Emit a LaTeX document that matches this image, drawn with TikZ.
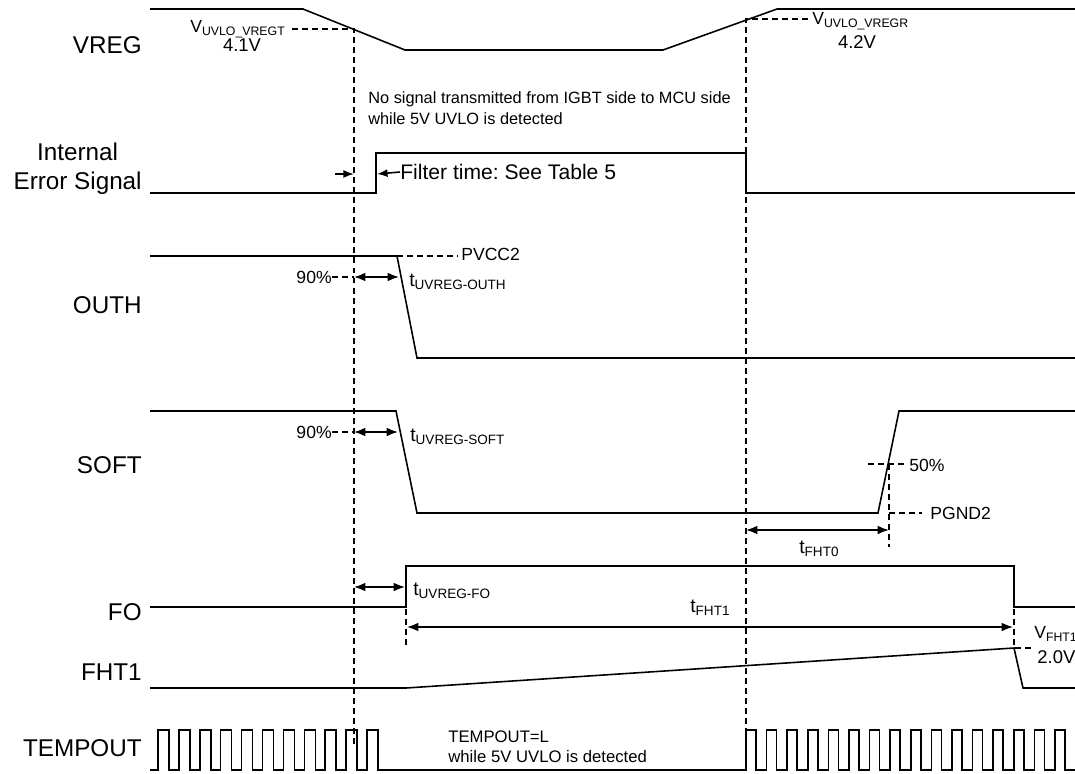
\documentclass[tikz,border=0pt]{standalone}
\usepackage{fontspec}
\setmainfont{Liberation Sans}
\usetikzlibrary{positioning, arrows.meta}
\frenchspacing

\begin{document}
\begin{tikzpicture}
    [
        x=0.2mm, y=-0.2mm,
        signal_line/.style={line width=0.9pt, line join=miter},
        guide_line/.style={dash pattern=on 3.4pt off 2.3pt, line width=0.8pt},
        span_arrow/.style={{Latex[length=6.5pt, width=5pt]}-{Latex[length=6.5pt, width=5pt]}, line width=0.9pt},
        tip_arrow/.style={-{Latex[length=6pt, width=4.5pt]}, line width=0.9pt},
        name_label/.style={anchor=east, align=center, inner sep=0pt, font=\fontsize{13.8}{16.5}\selectfont},
        note_label/.style={anchor=north west, align=left, inner sep=0pt, font=\fontsize{9.5}{11.9}\selectfont},
        level_label/.style={inner sep=0pt, font=\fontsize{10}{12}\selectfont},
        time_label/.style={anchor=west, inner sep=0pt, font=\fontsize{11}{13}\selectfont},
    ]
        \useasboundingbox (0,0) rectangle (1075,773);

        % signal names
        \node[name_label] (vreg) at (142,45) {VREG};
        \node[name_label] (ierr) at (142,169) {Internal\\Error Signal};
        \node[name_label] (outh) at (142,305) {OUTH};
        \node[name_label] (soft) at (142,465) {SOFT};
        \node[name_label] (fo) at (142,612) {FO};
        \node[name_label] (fht1) at (142,672) {FHT1};
        \node[name_label] (tempout) at (142,748) {TEMPOUT};

        % waveforms
        \draw[signal_line] (150,9) -- (303,9) -- (405,50) -- (663,50) -- (777,9) -- (1075,9);
        \draw[signal_line] (150,193) -- (376,193) -- (376,153) -- (746,153) -- (746,193) -- (1075,193);
        \draw[signal_line] (150,256) -- (397,256) -- (417,358) -- (1075,358);
        \draw[signal_line] (150,411) -- (396,411) -- (417,513) -- (878,513) -- (899,411) -- (1075,411);
        \draw[signal_line] (150,607) -- (406,607) -- (406,566) -- (1014,566) -- (1014,607) -- (1075,607);
        \draw[signal_line] (150,688) -- (406,688) -- (1014,648) -- (1023,688) -- (1075,688);
        \draw[signal_line] (150,770)
            foreach \k in {0,...,10} { -- ({158+20.9*\k},770) -- ({158+20.9*\k},730) -- ({169+20.9*\k},730) -- ({169+20.9*\k},770) }
            foreach \k in {0,...,15} { -- ({746+20.6*\k},770) -- ({746+20.6*\k},730) -- ({756+20.6*\k},730) -- ({756+20.6*\k},770) }
            -- (1075,770);

        % UVLO thresholds
        \draw[guide_line] (292,29) -- (354,29) -- (354,745);
        \draw[guide_line] (808,19) -- (746,19) -- (746,730);
        \node[level_label, anchor=east] (vregt) at (286,29) {V\textsubscript{UVLO\_VREGT}};
        \node[level_label, font=\fontsize{10.5}{12}\selectfont] (vregt_val) at (242,45) {4.1V};
        \node[level_label, anchor=west] (vregr) at (812,21) {V\textsubscript{UVLO\_VREGR}};
        \node[level_label, font=\fontsize{10.5}{12}\selectfont] (vregr_val) at (857,42) {4.2V};

        \node[note_label, font=\fontsize{9.3}{11.9}\selectfont] (no_signal) at (368,91) {No signal transmitted from IGBT side to MCU side\\while 5V UVLO is detected};

        % filter time
        \node[time_label, font=\fontsize{12}{14}\selectfont] (filter) at (400,172) {Filter time: See Table 5};
        \draw[tip_arrow] (335,174) -- (354,174);
        \draw[tip_arrow] (filter.west) -- (377,174);

        % OUTH
        \draw[guide_line] (397,256) -- (458,256);
        \node[level_label, anchor=west] (pvcc2) at (461,254) {PVCC2};
        \node[level_label, anchor=east] (outh_90) at (332,277) {90\%};
        \draw[guide_line] (outh_90.east) -- (354,277);
        \draw[span_arrow] (354,277) -- (399,277);
        \node[time_label] (t_outh) at (409,282) {t\textsubscript{UVREG-OUTH}};

        % SOFT
        \node[level_label, anchor=east] (soft_90) at (332,432) {90\%};
        \draw[guide_line] (soft_90.east) -- (354,432);
        \draw[span_arrow] (354,432) -- (398,432);
        \node[time_label] (t_soft) at (410,437) {t\textsubscript{UVREG-SOFT}};
        \draw[guide_line] (868,464) -- (908,464);
        \node[level_label, anchor=west] (half) at (909,465) {50\%};
        \draw[guide_line] (889,464) -- (889,547);
        \draw[guide_line] (889,513) -- (922,513);
        \node[level_label, anchor=west] (pgnd2) at (930,513) {PGND2};
        \draw[span_arrow] (746,530) -- (889,530);
        \node[time_label] (t_fht0) at (799,549) {t\textsubscript{FHT0}};

        % FO and FHT1
        \draw[span_arrow] (354,587) -- (405,587);
        \node[time_label] (t_fo) at (413,591) {t\textsubscript{UVREG-FO}};
        \draw[guide_line] (406,609) -- (406,648);
        \draw[span_arrow] (407,627) -- (1013,627);
        \node[time_label] (t_fht1) at (690,608) {t\textsubscript{FHT1}};
        \draw[guide_line] (1014,609) -- (1014,648) -- (1034,648);
        \node[level_label, anchor=west] (vfht1) at (1034,634) {V\textsubscript{FHT1}};
        \node[level_label, anchor=west, font=\fontsize{10.5}{12}\selectfont] (vfht1_val) at (1037,657) {2.0V};

        % TEMPOUT
        \node[note_label] (temp_low) at (448,730) {TEMPOUT=L\\while 5V UVLO is detected};
    \end{tikzpicture}
\end{document}
